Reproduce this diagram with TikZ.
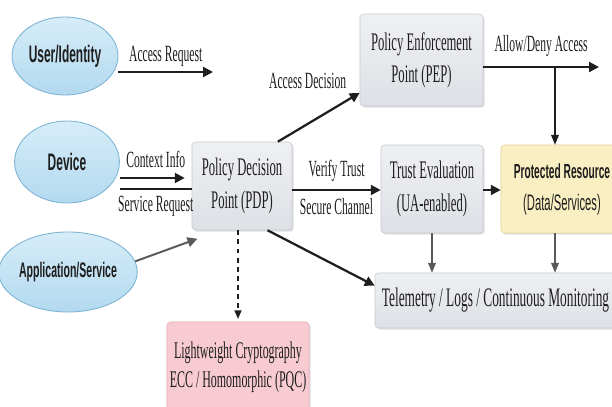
\documentclass[tikz,border=0pt]{standalone}
\usepackage{fontspec}
\setmainfont[FakeStretch=0.5]{Liberation Serif}
\newfontfamily\srcfont[FakeStretch=0.5]{Liberation Sans}
\usetikzlibrary{arrows.meta,shapes.geometric,shadows}
\definecolor{srcfill}{HTML}{B3D9EF}
\definecolor{srcfilltop}{HTML}{D6EDF9}
\definecolor{srcedge}{HTML}{7CB3D4}
\definecolor{boxtop}{HTML}{EFF0F3}
\definecolor{boxbottom}{HTML}{DDE0E5}
\definecolor{boxedge}{HTML}{C8CBD1}
\definecolor{resfill}{HTML}{FAEFC2}
\definecolor{resedge}{HTML}{E4D49C}
\definecolor{cryptfill}{HTML}{F7CBD1}
\definecolor{cryptedge}{HTML}{E6AFB7}
\definecolor{flowdark}{HTML}{1E1E1E}
\definecolor{flowgray}{HTML}{5A5A5A}
\tikzset{
  srcnode/.style={ellipse, draw=srcedge, line width=0.6pt, top color=srcfilltop,
                  bottom color=srcfill, inner sep=0pt, text=flowdark,
                  font=\srcfont\bfseries\fontsize{17}{20}\selectfont},
  box/.style={rectangle, rounded corners=2.5pt, draw=boxedge, line width=0.4pt,
              top color=boxtop, bottom color=boxbottom, align=center, text=flowdark,
              drop shadow={shadow xshift=1.2pt, shadow yshift=-1.2pt, opacity=0.25},
              inner sep=0pt, font=\fontsize{18}{23}\selectfont},
  resbox/.style={box, top color=resfill, bottom color=resfill, draw=resedge,
                 font=\srcfont\fontsize{16}{22.7}\selectfont},
  cryptbox/.style={box, top color=cryptfill, bottom color=cryptfill, draw=cryptedge,
                   font=\fontsize{17}{20.5}\selectfont},
  flow/.style={-{Triangle[length=7pt,width=7pt]}, line width=1.6pt, draw=flowdark},
  grayflow/.style={-{Triangle[length=7pt,width=7pt]}, line width=1.4pt, draw=flowgray},
  thinflow/.style={-{Triangle[length=7pt,width=5.5pt]}, line width=0.9pt, draw=flowgray},
  branchflow/.style={-{Triangle[length=7pt,width=5.5pt]}, line width=0.8pt, draw=flowdark},
  dashflow/.style={-{Triangle[length=6pt,width=5pt]}, line width=0.8pt, draw=flowdark,
                   dash pattern=on 3.5pt off 3pt},
  lbl/.style={font=\fontsize{16.5}{19}\selectfont, text=flowdark, inner sep=0pt,
              text height=0.7em, text depth=0.25em},
}

\begin{document}
\begin{tikzpicture}[x=0.025cm, y=-0.025cm]
  \clip (0,0) rectangle (612,407);
  \fill[white] (0,0) rectangle (612,407);

  % sources
  \node[srcnode, minimum width=2.65cm, minimum height=1.95cm] (user) at (65,56) {User/Identity};
  \node[srcnode, minimum width=2.62cm, minimum height=2.05cm] (device) at (67,162) {Device};
  \node[srcnode, minimum width=2.75cm, minimum height=2cm,
        font=\srcfont\bfseries\fontsize{15}{17}\selectfont] (app) at (68,272) {Application/Service};

  % boxes
  \node[box, minimum width=2.5cm, minimum height=2.2cm] (pdp) at (242,186) {Policy Decision\\Point (PDP)};
  \node[box, minimum width=3.075cm, minimum height=2.3cm] (pep) at (421.5,60) {Policy Enforcement\\Point (PEP)};
  \node[box, minimum width=2.55cm, minimum height=2.2cm] (trust) at (432,189) {Trust Evaluation\\(UA-enabled)};
  \node[resbox, minimum width=3.05cm, minimum height=2.2cm] (res) at (562,189)
    {{\bfseries\fontsize{14.5}{22.7}\selectfont Protected Resource}\\(Data/Services)};
  \node[box, minimum width=6.025cm, minimum height=1.375cm,
        font=\fontsize{19}{23}\selectfont] (tele) at (495.5,300.5) {Telemetry / Logs / Continuous Monitoring};
  \node[cryptbox, minimum width=3.55cm, minimum height=2.25cm] (crypt) at (238,367) {Lightweight Cryptography\\ECC / Homomorphic (PQC)};

  % helper points
  \coordinate (reqend) at (213,72);
  \coordinate (ctx) at (0,178);
  \coordinate (svc) at (0,189);
  \coordinate (vt) at (0,190);
  \coordinate (allowend) at (599,67);
  \coordinate (branch) at (555,67);

  % flows
  \draw[flow] (user.east |- reqend) -- (reqend) node[lbl, midway, above=4pt] {Access Request};
  \draw[flow, shorten >=5pt] (device.east |- ctx) -- (pdp.west |- ctx) node[lbl, midway, above=4pt] {Context Info};
  \draw[line width=1.6pt, flowdark] (device.east |- svc) -- (pdp.west |- svc) node[lbl, midway, below=8.5pt] {Service Request};
  \draw[grayflow] (app.9) -- ([xshift=4pt, yshift=-6pt]pdp.south west);
  \draw[flow] (pdp.51) -- (pep.208) node[lbl, pos=0.9, anchor=south east, xshift=-3pt, yshift=3pt] {Access Decision};
  \draw[flow] (pdp.east |- vt) -- (trust.west |- vt)
    node[lbl, midway, above=6pt] {Verify Trust}
    node[lbl, midway, below=9.5pt] {Secure Channel};
  \draw[flow] (pep.east |- allowend) -- (allowend) node[lbl, midway, above=7.5pt] {Allow/Deny Access};
  \draw[branchflow] (branch) -- (res.north -| branch);
  \draw[flow] (trust.east |- vt) -- (res.west |- vt);
  \draw[thinflow] (trust.south) -- (tele.north -| trust.south);
  \draw[thinflow] (res.south -| branch) -- (tele.north -| branch);
  \draw[flow] (pdp.-60) -- (tele.173);
  \draw[dashflow, shorten >=2pt] (crypt.north |- pdp.south) -- (crypt.north);
\end{tikzpicture}
\end{document}
